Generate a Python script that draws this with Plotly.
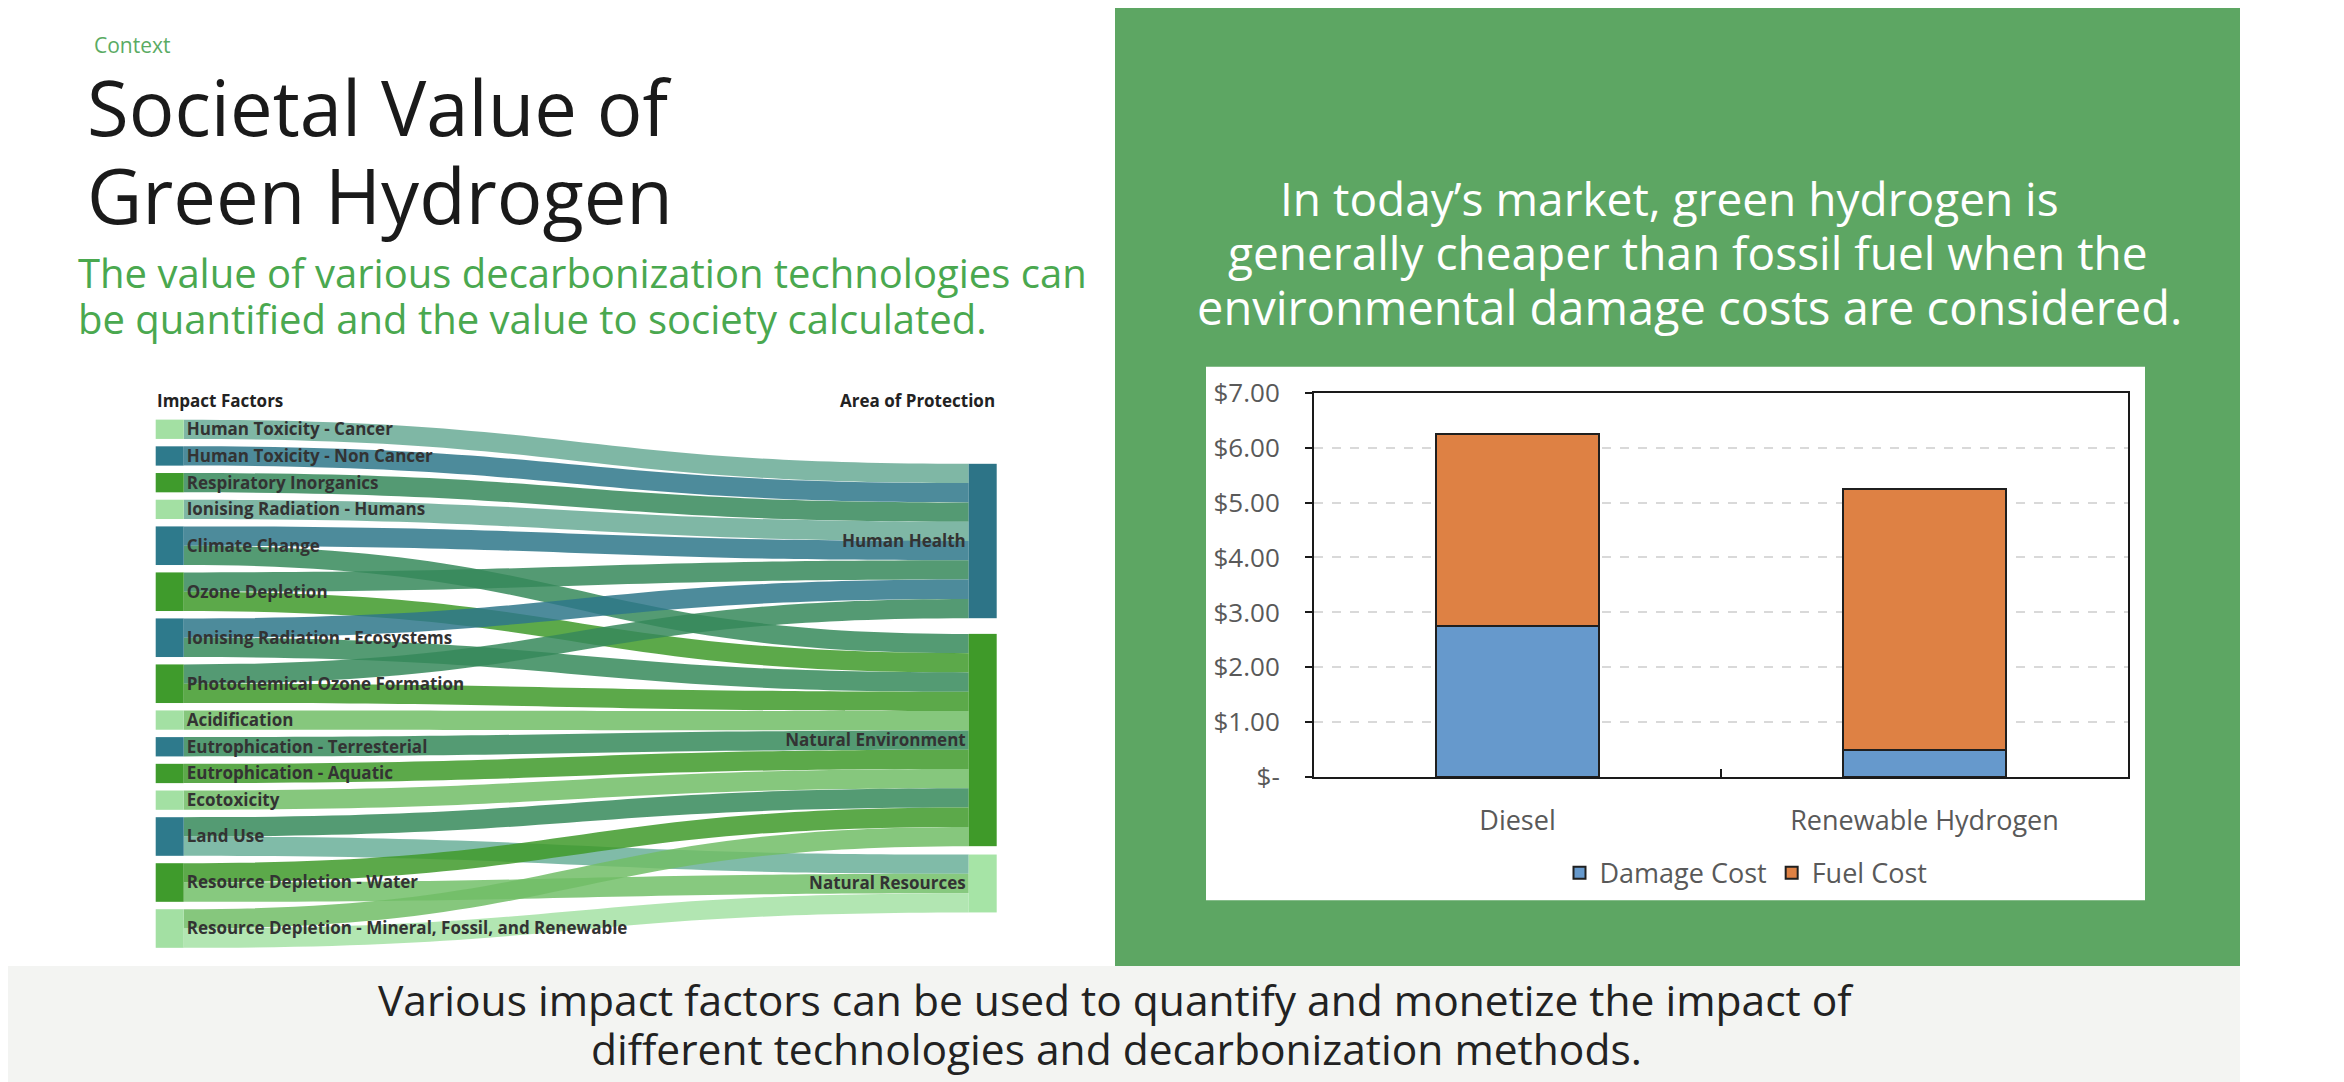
import plotly.graph_objects as go

W, H = 2344, 1082

# ---------------- data ----------------
impact_factors = [
    "Human Toxicity - Cancer",
    "Human Toxicity - Non Cancer",
    "Respiratory Inorganics",
    "Ionising Radiation - Humans",
    "Climate Change",
    "Ozone Depletion",
    "Ionising Radiation - Ecosystems",
    "Photochemical Ozone Formation",
    "Acidification",
    "Eutrophication - Terresterial",
    "Eutrophication - Aquatic",
    "Ecotoxicity",
    "Land Use",
    "Resource Depletion - Water",
    "Resource Depletion - Mineral, Fossil, and Renewable",
]
factor_group = ["light", "teal", "green", "light", "teal", "green", "teal", "green",
                "light", "teal", "green", "light", "teal", "green", "light"]
areas = ["Human Health", "Natural Environment", "Natural Resources"]
area_group = ["hh", "ne", "nr"]

link_source = [0, 1, 2, 3, 4, 4, 5, 5, 6, 6, 7, 7, 8, 9, 10, 11, 12, 12, 13, 13, 14, 14]
link_target = [0, 0, 0, 0, 0, 1, 0, 1, 0, 1, 0, 1, 1, 1, 1, 1, 1, 2, 1, 2, 1, 2]
link_value = [1, 1, 1, 1, 1, 1, 1, 1, 1, 1, 1, 1, 1, 1, 1, 1, 1, 1, 1, 1, 1, 1]

categories = ["Diesel", "Renewable Hydrogen"]
damage_cost = [2.75, 0.50]
fuel_cost = [3.50, 4.75]
y_tickvals = [0, 1, 2, 3, 4, 5, 6, 7]
y_ticktext = ["$-", "$1.00", "$2.00", "$3.00", "$4.00", "$5.00", "$6.00", "$7.00"]

# ---------------- styles ----------------
group_color = {
    "light": "#a3e0a3", "teal": "#2e7a8c", "green": "#3f9b2c",
    "hh": "#2d7487", "ne": "#3f9a29", "nr": "#a6e4a6",
}
FONT = "Open Sans"

# mapping from reference-picture pixels to paper coordinates
OX, OY, EFF_H = 8.0, 26.0, 1047.0


def X(px):
    return (px - OX) / W


def Y(py):
    return 1 - (py - OY) / EFF_H


def hex_rgb(h):
    h = h.lstrip("#")
    return tuple(int(h[i:i + 2], 16) for i in (0, 2, 4))


def blend(c1, c2, t=0.5, a=0.85):
    r1, g1, b1 = hex_rgb(c1)
    r2, g2, b2 = hex_rgb(c2)
    r = round(r1 * (1 - t) + r2 * t)
    g = round(g1 * (1 - t) + g2 * t)
    b = round(b1 * (1 - t) + b2 * t)
    return f"rgba({r},{g},{b},{a})"


# sankey geometry (reference pixels)
sk_left, sk_right, sk_top, sk_bottom = 155.7, 996.7, 419.0, 947.7
sk_w, sk_h = sk_right - sk_left, sk_bottom - sk_top
pad = 7.4
thick = 28

n_left = len(impact_factors)
left_vals = [0.0] * n_left
for s, v in zip(link_source, link_value):
    left_vals[s] += v
unit = (sk_h - (n_left - 1) * pad) / sum(left_vals)

node_x, node_y = [], []
acc = 0.0
for i, v in enumerate(left_vals):
    top = acc * unit + i * pad
    node_x.append((thick / 2) / sk_w)
    node_y.append((top + v * unit / 2) / sk_h)
    acc += v
right_centers = [0.2298, 0.6066, 0.8782]
for c in right_centers:
    node_x.append(1 - (thick / 2) / sk_w)
    node_y.append(c)

node_colors = [group_color[g] for g in factor_group] + [group_color[g] for g in area_group]
src = list(link_source)
tgt = [t + n_left for t in link_target]
link_colors = [blend(node_colors[s], node_colors[t]) for s, t in zip(src, tgt)]

fig = go.Figure()

fig.add_trace(go.Sankey(
    arrangement="fixed",
    domain=dict(x=[X(sk_left), X(sk_right)], y=[Y(sk_bottom), Y(sk_top)]),
    node=dict(
        label=impact_factors + areas,
        color=node_colors,
        x=node_x, y=node_y,
        pad=pad, thickness=thick,
        line=dict(width=0),
    ),
    link=dict(source=src, target=tgt, value=link_value, color=link_colors),
    textfont=dict(family=FONT, size=17, color="#333333", weight=700, shadow="none"),
    hoverinfo="none",
))

fig.add_trace(go.Bar(
    x=categories, y=damage_cost, name="Damage Cost",
    marker=dict(color="#6699cc", line=dict(color="#1f1f1f", width=2)),
))
fig.add_trace(go.Bar(
    x=categories, y=fuel_cost, name="Fuel Cost",
    marker=dict(color="#de8144", line=dict(color="#1f1f1f", width=2)),
))

shapes = [
    dict(type="rect", xref="paper", yref="paper", x0=X(1115), x1=X(2240), y0=Y(966), y1=1.05,
         fillcolor="#5da663", line=dict(width=0), layer="below"),
    dict(type="rect", xref="paper", yref="paper", x0=X(1206), x1=X(2145), y0=Y(900), y1=Y(366),
         fillcolor="#ffffff", line=dict(width=0), layer="below"),
    dict(type="rect", xref="paper", yref="paper", x0=-0.01, x1=X(2240), y0=-0.05, y1=Y(966),
         fillcolor="#f3f4f2", line=dict(width=0), layer="below"),
]


def ann(text, x, y, size, color, xanchor="left", weight=400):
    return dict(text=text, x=X(x), y=Y(y), xref="paper", yref="paper", showarrow=False,
                xanchor=xanchor, yanchor="middle",
                font=dict(family=FONT, size=size, color=color, weight=weight))


annotations = [
    ann("Context", 92, 44, 21, "#5aab63"),
    ann("Societal Value of", 85, 106, 76, "#1a1a1a"),
    ann("Green Hydrogen", 85, 194, 76, "#1a1a1a"),
    ann("The value of various decarbonization technologies can", 76, 272, 40, "#4aa84f"),
    ann("be quantified and the value to society calculated.", 76, 318, 40, "#4aa84f"),
    ann("Impact Factors", 155, 400, 17, "#222222", weight=700),
    ann("Area of Protection", 997, 400, 17, "#222222", xanchor="right", weight=700),
    ann("In today\u2019s market, green hydrogen is", 1670, 197, 46, "#ffffff", xanchor="center"),
    ann("generally cheaper than fossil fuel when the", 1688, 251, 46, "#ffffff", xanchor="center"),
    ann("environmental damage costs are considered.", 1689, 306, 47, "#ffffff", xanchor="center"),
    ann("Various impact factors can be used to quantify and monetize the impact of", 1116, 999, 42.5,
        "#222222", xanchor="center"),
    ann("different technologies and decarbonization methods.", 1116, 1048, 42.5, "#222222",
        xanchor="center"),
]

fig.update_layout(
    width=W, height=H,
    margin=dict(l=0, r=0, t=0, b=0),
    paper_bgcolor="#ffffff", plot_bgcolor="#ffffff",
    barmode="stack", bargap=0.6,
    shapes=shapes, annotations=annotations,
    font=dict(family=FONT),
    showlegend=True,
    legend=dict(orientation="h", x=X(1746), y=Y(873), xanchor="center", yanchor="middle",
                font=dict(family=FONT, size=27, color="#595959"), bgcolor="rgba(0,0,0,0)",
                traceorder="normal"),
    xaxis=dict(domain=[X(1314), X(2128)], showline=True, mirror=True, linecolor="#1a1a1a",
               linewidth=2, ticks="inside", tickson="boundaries", ticklen=8, tickcolor="#1a1a1a",
               tickwidth=2, showgrid=False, tickfont=dict(family=FONT, size=27, color="#595959"),
               ticklabelstandoff=18, fixedrange=True),
    yaxis=dict(domain=[Y(777), Y(392)], range=[0, 7], showline=True, mirror=True,
               linecolor="#1a1a1a", linewidth=2, ticks="outside", ticklen=7, tickcolor="#1a1a1a",
               tickwidth=2, tickvals=y_tickvals, ticktext=y_ticktext, showgrid=True,
               gridcolor="#d9d9d9", griddash="dash", gridwidth=2, zeroline=False,
               tickfont=dict(family=FONT, size=26, color="#595959"), ticklabelstandoff=20,
               fixedrange=True),
)

fig.write_html("out.html")
